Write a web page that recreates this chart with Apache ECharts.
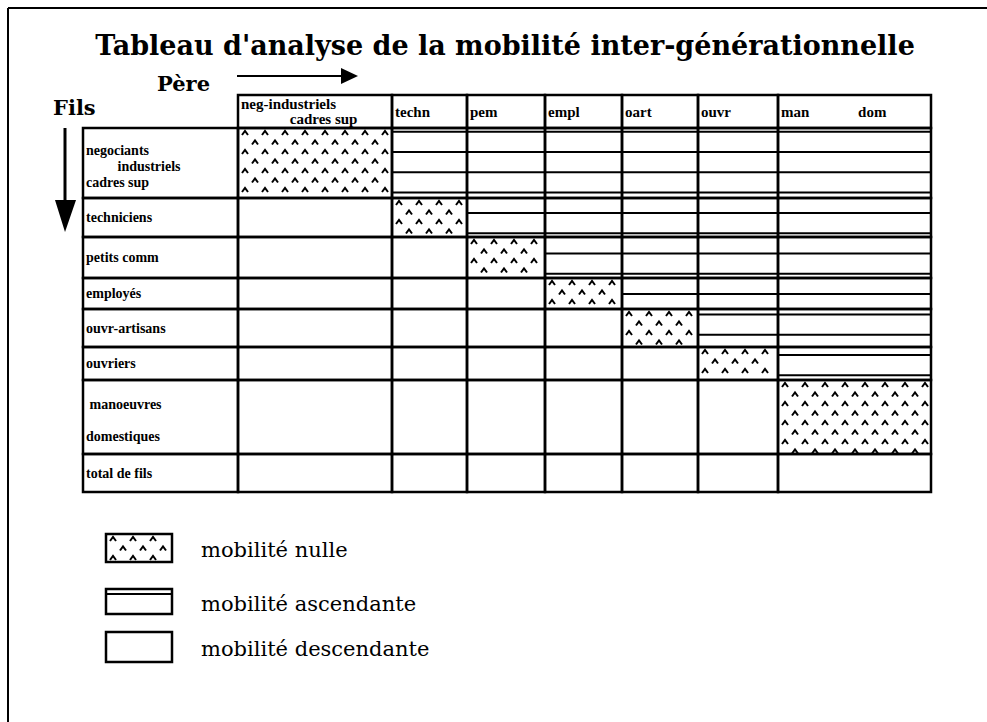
<!DOCTYPE html>
<html><head><meta charset="utf-8">
<script src="https://cdn.jsdelivr.net/npm/echarts@6/dist/echarts.min.js"></script>
<style>html,body{margin:0;padding:0;background:#fff}#c{width:987px;height:722px}</style>
</head><body><div id="c"></div>
<script>
// ---- content ----
const titleText = "Tableau d'analyse de la mobilité inter-générationnelle";
const fatherTitle = 'Père';
const sonTitle = 'Fils';
const fatherLabels = ['neg-industriels\n             cadres sup', 'techn', 'pem', 'empl', 'oart', 'ouvr', 'man             dom'];
const sonLabels = ['negociants\n         industriels\ncadres sup', 'techniciens', 'petits comm', 'employés', 'ouvr-artisans', 'ouvriers', ' manoeuvres\n\ndomestiques', 'total de fils'];
const legendLabels = ['mobilité nulle', 'mobilité ascendante', 'mobilité descendante'];
// ---- table geometry (axis units) ----
const labelColWidth = 155;
const colWidths = [154, 75, 78, 77, 76, 80, 153];
const headerHeight = 33;
const rowHeights = [70, 39, 41, 31, 38, 33, 74, 38];

const xEdges = [0];
[labelColWidth].concat(colWidths).forEach(w => xEdges.push(xEdges[xEdges.length - 1] + w));
const yEdges = [0];
[headerHeight].concat(rowHeights).forEach(h => yEdges.push(yEdges[yEdges.length - 1] + h));

const cells = [];
fatherLabels.forEach((t, j) => cells.push([xEdges[j + 1], yEdges[0], xEdges[j + 2], yEdges[1], 'header', t]));
sonLabels.forEach((t, i) => {
  cells.push([xEdges[0], yEdges[i + 1], xEdges[1], yEdges[i + 2], 'label', t]);
  fatherLabels.forEach((_, j) => {
    const kind = i >= fatherLabels.length ? 'blank' : (i === j ? 'nulle' : (j > i ? 'asc' : 'desc'));
    cells.push([xEdges[j + 1], yEdges[i + 1], xEdges[j + 2], yEdges[i + 2], kind, '']);
  });
});

const STRIPE0 = 57, STRIPE_STEP = 20.3;

function chevrons(x0, y0, x1, y1, arr) {
  let r = 0;
  for (let y = y0 + 5; y < y1 - 2; y += 9.5, r++) {
    for (let x = x0 + 7 + (r % 2 ? 10 : 0); x < x1 - 3; x += 20) {
      arr.push({type: 'polyline', shape: {points: [[x - 3, y + 2], [x, y - 2], [x + 3, y + 2]]},
        style: {stroke: '#000', lineWidth: 2, fill: null}});
    }
  }
}

function renderItem(params, api) {
  const c = cells[params.dataIndex];
  const a = api.coord([api.value(0), api.value(1)]);
  const b = api.coord([api.value(2), api.value(3)]);
  const x0 = a[0], y0 = a[1], x1 = b[0], y1 = b[1];
  const kind = c[4], text = c[5];
  const ch = [];
  if (kind === 'asc') {
    let v = STRIPE0;
    while (v - STRIPE_STEP > api.value(1)) v -= STRIPE_STEP;
    for (; v < api.value(3) - 1; v += STRIPE_STEP) {
      if (v <= api.value(1) + 1) continue;
      const y = api.coord([0, v])[1];
      ch.push({type: 'line', shape: {x1: x0, y1: y, x2: x1, y2: y}, style: {stroke: '#000', lineWidth: 2}});
    }
  }
  if (kind === 'nulle') chevrons(x0, y0, x1, y1, ch);
  ch.push({type: 'rect', shape: {x: x0, y: y0, width: x1 - x0, height: y1 - y0},
    style: {fill: null, stroke: '#000', lineWidth: 2.5}});
  if (text) {
    const isLabel = kind === 'label';
    ch.push({type: 'text', style: {text: text, x: x0 + 3, y: (y0 + y1) / 2 + (isLabel && text.indexOf('\n') > 0 ? 3 : 0),
      font: isLabel ? 'bold 14px "Liberation Serif"' : 'bold 15px "Liberation Serif"',
      fill: '#000', align: 'left', verticalAlign: 'middle', lineHeight: isLabel ? 16 : 15}});
  }
  return {type: 'group', children: ch};
}

// legend graphics
function legendItem(k, top) {
  const ch = [];
  const bx = 106, bw = 66, bh = [28, 25, 30][k];
  if (k === 0) chevrons(bx, top, bx + bw, top + bh, ch);
  if (k === 1) ch.push({type: 'line', shape: {x1: bx, y1: top + 5, x2: bx + bw, y2: top + 5}, style: {stroke: '#000', lineWidth: 2}});
  ch.push({type: 'rect', shape: {x: bx, y: top, width: bw, height: bh}, style: {fill: null, stroke: '#000', lineWidth: 2.5}});
  ch.push({type: 'text', style: {text: legendLabels[k], x: 201, y: top + bh / 2 + 2, font: '21px "DejaVu Serif"', fill: '#000', verticalAlign: 'middle'}});
  return ch;
}

const graphics = [
  {type: 'line', shape: {x1: 8, y1: 8, x2: 987, y2: 8}, style: {stroke: '#000', lineWidth: 2}},
  {type: 'line', shape: {x1: 8, y1: 8, x2: 8, y2: 722}, style: {stroke: '#000', lineWidth: 2}},
  {type: 'text', style: {text: titleText, x: 505, y: 45, font: 'bold 27px "DejaVu Serif"', fill: '#000', align: 'center', verticalAlign: 'middle'}},
  {type: 'text', style: {text: fatherTitle, x: 157, y: 83, font: 'bold 21px "DejaVu Serif"', fill: '#000', verticalAlign: 'middle'}},
  {type: 'text', style: {text: sonTitle, x: 53, y: 107, font: 'bold 21px "DejaVu Serif"', fill: '#000', verticalAlign: 'middle'}},
  {type: 'line', shape: {x1: 237, y1: 76, x2: 345, y2: 76}, style: {stroke: '#000', lineWidth: 2}},
  {type: 'polygon', shape: {points: [[341, 68], [358, 76], [341, 84]]}, style: {fill: '#000'}},
  {type: 'line', shape: {x1: 65, y1: 128, x2: 65, y2: 204}, style: {stroke: '#000', lineWidth: 3}},
  {type: 'polygon', shape: {points: [[55, 200], [76, 200], [65, 232]]}, style: {fill: '#000'}}
];
[534, 589, 632].forEach((t, k) => graphics.push({type: 'group', children: legendItem(k, t)}));

const chart = echarts.init(document.getElementById('c'), null, {renderer: 'svg'});
chart.setOption({
  animation: false,
  backgroundColor: '#fff',
  grid: {left: 83, top: 95, width: xEdges[xEdges.length - 1], height: yEdges[yEdges.length - 1]},
  xAxis: {type: 'value', min: 0, max: xEdges[xEdges.length - 1], show: false},
  yAxis: {type: 'value', min: 0, max: yEdges[yEdges.length - 1], inverse: true, show: false},
  graphic: {elements: graphics},
  series: [{
    type: 'custom',
    renderItem: renderItem,
    encode: {x: [0, 2], y: [1, 3]},
    data: cells.map(c => [c[0], c[1], c[2], c[3]])
  }]
});
</script></body></html>
